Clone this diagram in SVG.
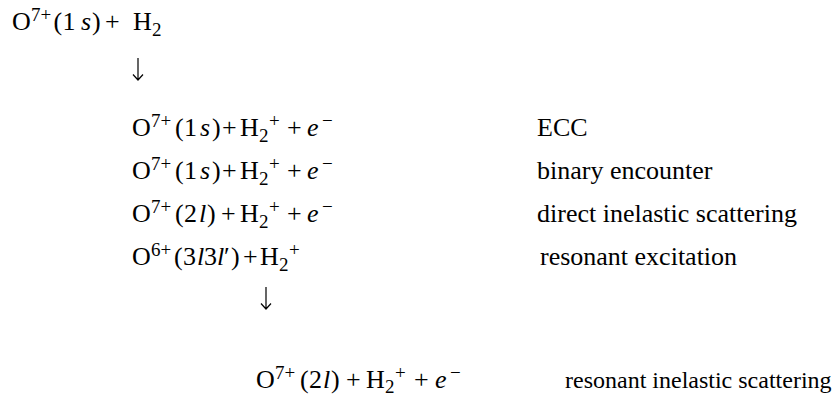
<svg xmlns="http://www.w3.org/2000/svg" width="834" height="398" viewBox="0 0 834 398">
<style>
text{font-family:"Liberation Serif","Times New Roman",serif;font-size:26px;fill:#000}
.s{font-size:19px}
.i{font-style:italic}
.arr{fill:none;stroke:#000;stroke-width:1.2}
</style>
<rect width="834" height="398" fill="#fff"/>
<g id="start">
<text y="30"><tspan x="12">O</tspan><tspan class="s" x="31" y="21">7+</tspan><tspan x="53.5" y="30">(</tspan><tspan x="62.5">1</tspan><tspan class="i" x="81">s</tspan><tspan x="92">)</tspan><tspan x="105">+</tspan><tspan x="133">H</tspan><tspan class="s" x="152" y="36">2</tspan></text>
</g>
<g id="ecc">
<text y="136"><tspan x="132">O</tspan><tspan class="s" x="151" y="127">7+</tspan><tspan x="175" y="136">(</tspan><tspan x="184">1</tspan><tspan class="i" x="200">s</tspan><tspan x="212">)</tspan><tspan x="222">+</tspan><tspan x="240">H</tspan><tspan class="s" x="259" y="142">2</tspan><tspan class="s" x="269" y="127">+</tspan><tspan x="287" y="136">+</tspan><tspan class="i" x="307">e</tspan><tspan class="s" x="322" y="127">−</tspan></text>
<text x="537" y="136">ECC</text>
</g>
<g id="binary">
<text y="179"><tspan x="132">O</tspan><tspan class="s" x="151" y="170">7+</tspan><tspan x="175" y="179">(</tspan><tspan x="184">1</tspan><tspan class="i" x="200">s</tspan><tspan x="212">)</tspan><tspan x="222">+</tspan><tspan x="240">H</tspan><tspan class="s" x="259" y="185">2</tspan><tspan class="s" x="269" y="170">+</tspan><tspan x="287" y="179">+</tspan><tspan class="i" x="307">e</tspan><tspan class="s" x="322" y="170">−</tspan></text>
<text x="537" y="179">binary encounter</text>
</g>
<g id="direct">
<text y="222"><tspan x="132">O</tspan><tspan class="s" x="151" y="213">7+</tspan><tspan x="175" y="222">(</tspan><tspan x="184">2</tspan><tspan class="i" x="199">l</tspan><tspan x="207">)</tspan><tspan x="221">+</tspan><tspan x="240">H</tspan><tspan class="s" x="259" y="228">2</tspan><tspan class="s" x="269" y="213">+</tspan><tspan x="287" y="222">+</tspan><tspan class="i" x="307">e</tspan><tspan class="s" x="322" y="213">−</tspan></text>
<text x="537" y="222">direct inelastic scattering</text>
</g>
<g id="resonant">
<text y="265"><tspan x="132">O</tspan><tspan class="s" x="151" y="256">6+</tspan><tspan x="174" y="265">(</tspan><tspan x="183">3</tspan><tspan class="i" x="197">l</tspan><tspan x="204">3</tspan><tspan class="i" x="217">l</tspan><tspan x="224">′</tspan><tspan x="231">)</tspan><tspan x="243">+</tspan><tspan x="260">H</tspan><tspan class="s" x="279" y="271">2</tspan><tspan class="s" x="289" y="256">+</tspan></text>
<text x="540" y="265">resonant excitation</text>
</g>
<g id="ris">
<text y="388"><tspan x="256">O</tspan><tspan class="s" x="275" y="379">7+</tspan><tspan x="300" y="388">(</tspan><tspan x="309">2</tspan><tspan class="i" x="323">l</tspan><tspan x="331">)</tspan><tspan x="346">+</tspan><tspan x="366">H</tspan><tspan class="s" x="385" y="393">2</tspan><tspan class="s" x="395" y="379">+</tspan><tspan x="414" y="388">+</tspan><tspan class="i" x="435">e</tspan><tspan class="s" x="450" y="379">−</tspan></text>
<text x="565" y="388" style="font-size:24px">resonant inelastic scattering</text>
</g>
<g id="connectors">
<path class="arr" d="M138 58V80M133 74.5L138 80L143 74.5"/>
<path class="arr" d="M266 287V309M261 303.5L266 309L271 303.5"/>
</g>
</svg>
